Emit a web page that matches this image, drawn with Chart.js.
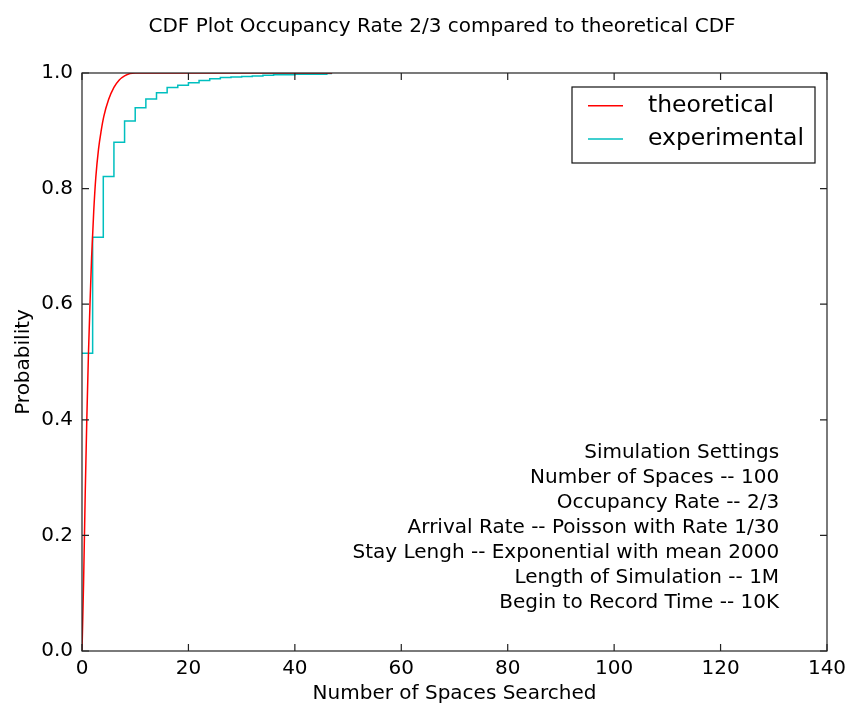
<!DOCTYPE html>
<html>
<head>
<meta charset="utf-8">
<title>CDF Plot</title>
<script src="https://cdn.jsdelivr.net/npm/chart.js@4.4.1/dist/chart.umd.min.js"></script>
<style>
html, body { margin: 0; padding: 0; background: #fff; }
#wrap { width: 846px; height: 709px; }
</style>
</head>
<body>
<div id="wrap"><canvas id="cdfChart" width="846" height="709"></canvas></div>
<script>
'use strict';

const CHART_TITLE = 'CDF Plot Occupancy Rate 2/3 compared to theoretical CDF';
const X_LABEL = 'Number of Spaces Searched';
const Y_LABEL = 'Probability';

// theoretical CDF
const THEORY_X = [0, 0.3, 0.6, 0.9, 1.2, 1.5, 1.8, 2.2, 2.6, 3.1, 3.6, 4.1, 5, 6, 7, 8, 9, 10, 20, 47];
const THEORY_Y = [0, 0.12, 0.27, 0.4, 0.51, 0.6, 0.68, 0.76, 0.82, 0.868, 0.9, 0.925, 0.954, 0.975, 0.988, 0.995, 0.999, 1.0, 1.0, 1.0];

// experimental CDF (cyan step curve)
const EXPER_X = [0, 2, 4, 6, 8, 10, 12, 14, 16, 18, 20, 22, 24, 26, 28, 30, 32, 34, 36, 38, 40, 42, 44, 46, 47];
const EXPER_Y = [0.515, 0.716, 0.821, 0.880, 0.917, 0.940, 0.955, 0.966, 0.975, 0.979, 0.983, 0.987, 0.990, 0.992,
                 0.993, 0.994, 0.995, 0.996, 0.997, 0.997, 0.998, 0.998, 0.998, 0.999, 0.999];

const X_TICKS = [0, 20, 40, 60, 80, 100, 120, 140];
const Y_TICKS = [0, 0.2, 0.4, 0.6, 0.8, 1.0];

const SETTINGS_TEXT = [
    'Simulation Settings',
    'Number of Spaces -- 100',
    'Occupancy Rate -- 2/3',
    'Arrival Rate -- Poisson with Rate 1/30',
    'Stay Lengh -- Exponential with mean 2000',
    'Length of Simulation -- 1M',
    'Begin to Record Time -- 10K'
];

const FONT = 'DejaVu Sans';

function toPoints(xs, ys) {
    return xs.map(function (x, i) { return { x: x, y: ys[i] }; });
}

// figure title, centred a bit right of the canvas middle like the original
const titlePlugin = {
    id: 'figTitle',
    afterDraw(chart) {
        const { ctx } = chart;
        ctx.save();
        ctx.font = '20px "' + FONT + '"';
        ctx.fillStyle = '#000';
        ctx.textAlign = 'center';
        ctx.textBaseline = 'middle';
        ctx.fillText(CHART_TITLE, 442, 27);
        ctx.restore();
    }
};

// box round the axes plus inward ticks on every side, like matplotlib classic
const framePlugin = {
    id: 'frame',
    afterDatasetsDraw(chart) {
        const { ctx, chartArea: a, scales } = chart;
        const len = 7;
        ctx.save();
        ctx.strokeStyle = '#222';
        ctx.lineWidth = 1.2;
        ctx.beginPath();
        X_TICKS.forEach(function (v) {
            const px = scales.x.getPixelForValue(v);
            ctx.moveTo(px, a.bottom); ctx.lineTo(px, a.bottom - len);
            ctx.moveTo(px, a.top); ctx.lineTo(px, a.top + len);
        });
        Y_TICKS.forEach(function (v) {
            const py = scales.y.getPixelForValue(v);
            ctx.moveTo(a.left, py); ctx.lineTo(a.left + len, py);
            ctx.moveTo(a.right, py); ctx.lineTo(a.right - len, py);
        });
        ctx.stroke();
        ctx.strokeRect(a.left, a.top, a.right - a.left, a.bottom - a.top);
        ctx.restore();
    }
};

const legendBoxPlugin = {
    id: 'legendBox',
    afterDraw(chart) {
        const { ctx, chartArea: a } = chart;
        const w = 243, h = 76;
        const left = a.right - 12 - w, top = a.top + 14;
        ctx.save();
        ctx.fillStyle = '#fff';
        ctx.fillRect(left, top, w, h);
        ctx.strokeStyle = '#111';
        ctx.lineWidth = 1.2;
        ctx.strokeRect(left, top, w, h);
        ctx.font = '23.5px "' + FONT + '"';
        ctx.textBaseline = 'middle';
        chart.data.datasets.forEach(function (ds, i) {
            const y = top + 18.7 + i * 33.3;
            ctx.strokeStyle = ds.borderColor;
            ctx.lineWidth = ds.borderWidth;
            ctx.beginPath();
            ctx.moveTo(left + 16, y);
            ctx.lineTo(left + 51, y);
            ctx.stroke();
            ctx.fillStyle = '#000';
            ctx.fillText(ds.label, left + 76, y);
        });
        ctx.restore();
    }
};

const settingsPlugin = {
    id: 'settings',
    afterDraw(chart) {
        const { ctx, scales } = chart;
        const x = scales.x.getPixelForValue(131);
        const y0 = scales.y.getPixelForValue(0.343);
        ctx.save();
        ctx.font = '20px "' + FONT + '"';
        ctx.fillStyle = '#000';
        ctx.textAlign = 'right';
        ctx.textBaseline = 'middle';
        SETTINGS_TEXT.forEach(function (line, i) {
            ctx.fillText(line, x, y0 + i * 25);
        });
        ctx.restore();
    }
};

const data = {
    datasets: [
        {
            label: 'theoretical',
            data: toPoints(THEORY_X, THEORY_Y),
            borderColor: '#ff0000',
            borderWidth: 1.5,
            pointRadius: 0,
            cubicInterpolationMode: 'monotone'
        },
        {
            label: 'experimental',
            data: toPoints(EXPER_X, EXPER_Y),
            borderColor: '#00bfbf',
            borderWidth: 1.5,
            pointRadius: 0,
            stepped: 'before'
        }
    ]
};

const config = {
    type: 'line',
    data,
    options: {
        responsive: false,
        animation: false,
        devicePixelRatio: 1,
        layout: { padding: { top: 73, right: 19, bottom: 0, left: 0 } },
        plugins: {
            legend: { display: false },
            tooltip: { enabled: false },
            title: { display: false }
        },
        scales: {
            x: {
                type: 'linear',
                min: 0,
                max: 140,
                grid: { display: false, drawTicks: false },
                border: { display: false },
                ticks: {
                    stepSize: 20,
                    padding: 6,
                    color: '#000',
                    maxRotation: 0,
                    font: { family: FONT, size: 20 }
                },
                title: {
                    display: true,
                    text: X_LABEL,
                    color: '#000',
                    font: { family: FONT, size: 20 },
                    padding: { top: 0, bottom: 3 }
                },
                afterFit(scale) {
                    scale.height = 58;
                    scale.paddingLeft = 0;
                    scale.paddingRight = 0;
                }
            },
            y: {
                type: 'linear',
                min: 0,
                max: 1,
                grid: { display: false, drawTicks: false },
                border: { display: false },
                ticks: {
                    stepSize: 0.2,
                    padding: 9,
                    color: '#000',
                    font: { family: FONT, size: 20 },
                    callback: function (v) { return v.toFixed(1); }
                },
                title: {
                    display: true,
                    text: Y_LABEL,
                    color: '#000',
                    font: { family: FONT, size: 20 },
                    padding: { top: 12, bottom: 0 }
                },
                afterFit(scale) {
                    scale.width = 82;
                    scale.paddingTop = 0;
                    scale.paddingBottom = 0;
                }
            }
        }
    },
    plugins: [titlePlugin, framePlugin, legendBoxPlugin, settingsPlugin]
};

const cdfChart = new Chart(document.getElementById('cdfChart'), config);
</script>
</body>
</html>
